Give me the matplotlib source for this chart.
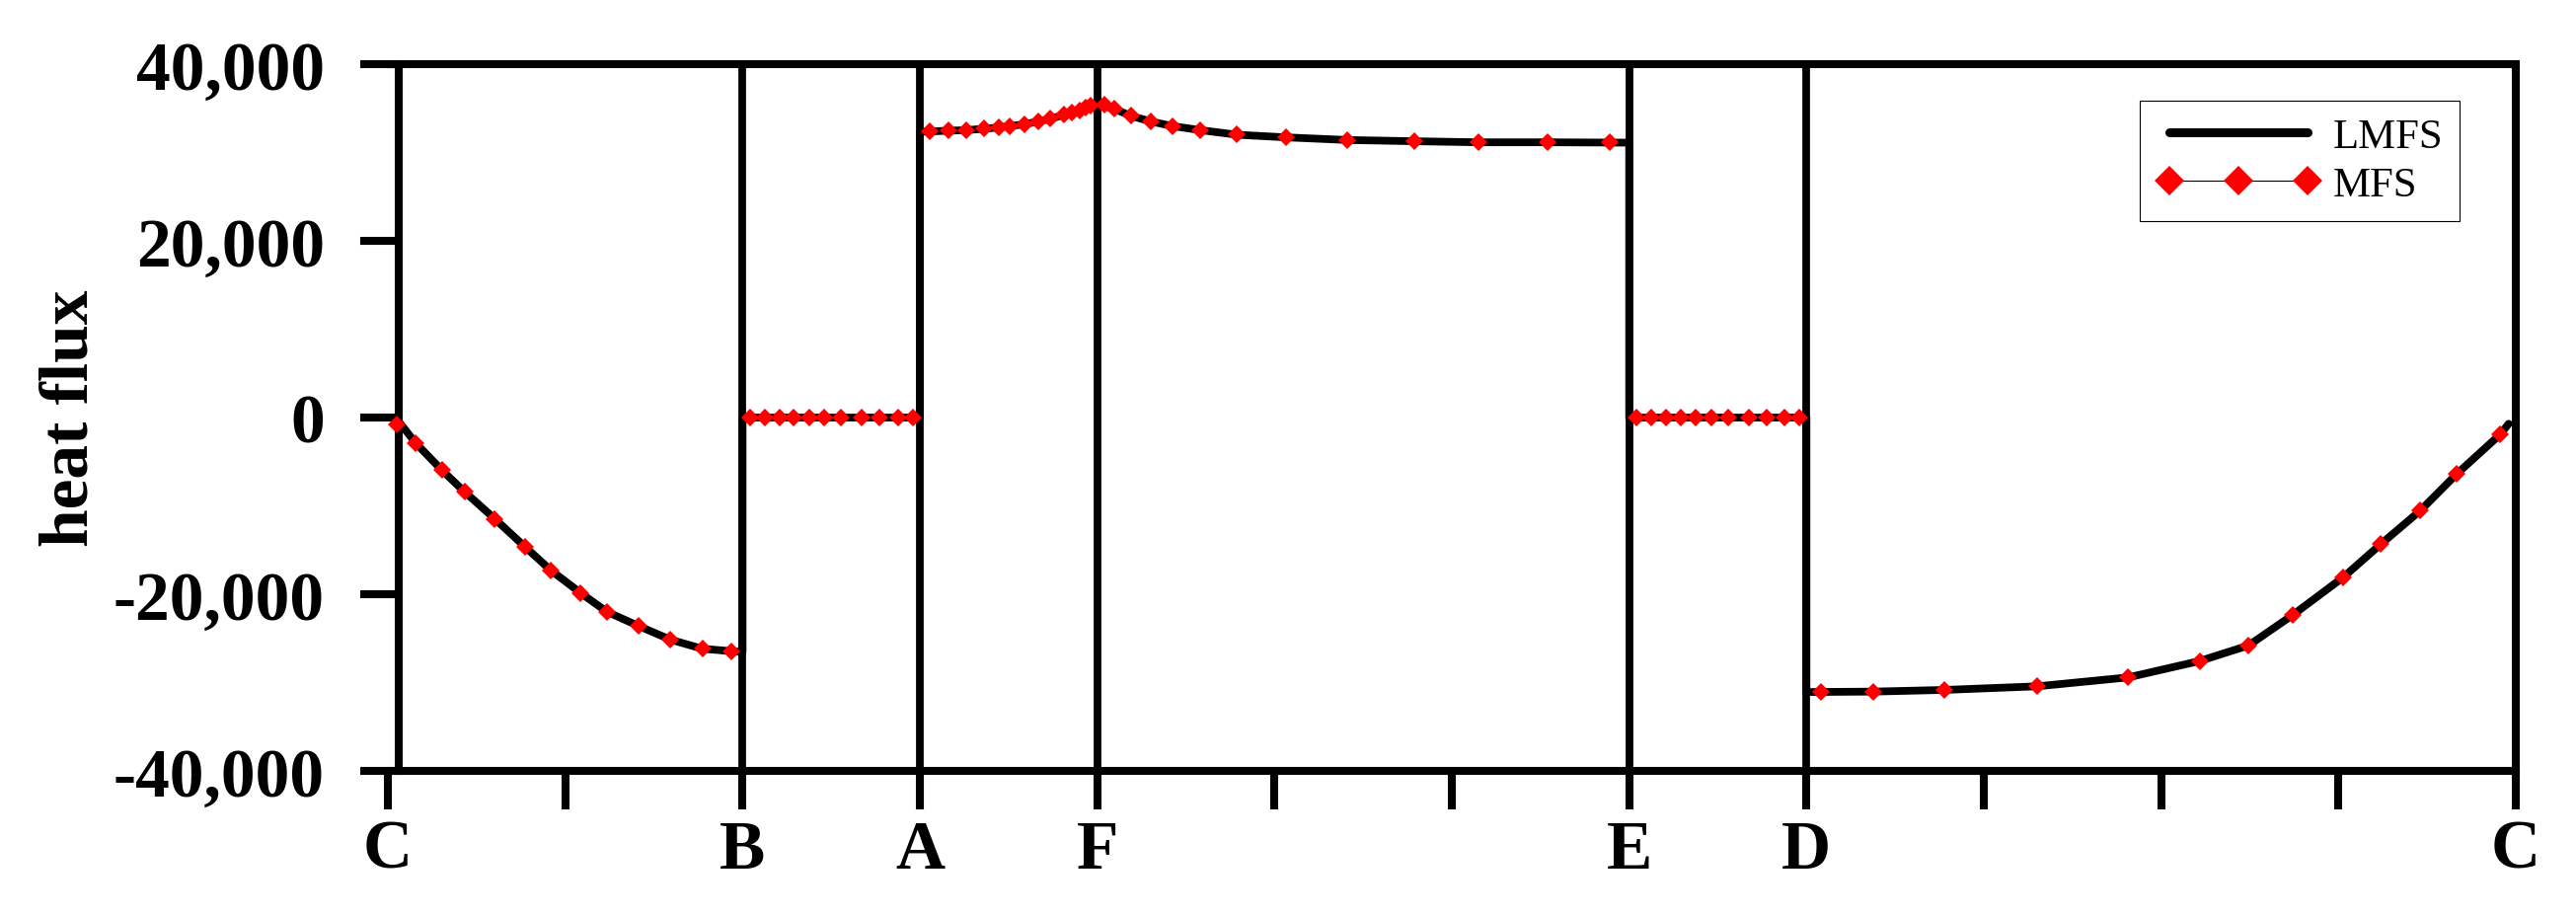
import matplotlib
matplotlib.use("Agg")
import matplotlib.pyplot as plt
from matplotlib.lines import Line2D
from matplotlib.ticker import FuncFormatter

# —— 数据 —— #
# x 轴沿边界 C-B-A-F-E-D-C，每个刻度一个单位
tick_pos = list(range(13))
tick_names = ["C", "", "B", "A", "F", "", "", "E", "D", "", "", "", "C"]
corner_pos = [2, 3, 4, 7, 8]          # 角点处的竖线
y_ticks = [-40000, -20000, 0, 20000, 40000]
left_axis_x = 0.061                    # 左轴线略偏离 x=0

# MFS 节点（红色菱形）
mfs_x = [0.048, 0.155, 0.304, 0.432, 0.602, 0.773, 0.917, 1.085, 1.234, 1.411, 1.592, 1.773, 1.934,
         2.040, 2.125, 2.210, 2.289, 2.376, 2.462, 2.557, 2.674, 2.774, 2.875, 2.960,
         3.053, 3.159, 3.262, 3.361, 3.446, 3.505, 3.590, 3.666, 3.735, 3.810, 3.859, 3.899, 3.937, 3.964,
         4.043, 4.094, 4.190, 4.304, 4.426, 4.582, 4.787, 5.065, 5.412, 5.790, 6.150, 6.542, 6.888,
         7.040, 7.125, 7.210, 7.289, 7.376, 7.462, 7.557, 7.674, 7.774, 7.875, 7.960,
         8.081, 8.377, 8.780, 9.303, 9.815, 10.217, 10.493, 10.741, 11.026, 11.239, 11.462, 11.668, 11.913]
mfs_q = [-750, -2850, -5950, -8400, -11450, -14630, -17260, -19830, -21970, -23570, -25130, -26170, -26440,
         0, 0, 0, 0, 0, 0, 0, 0, 0, 0, 0,
         32390, 32470, 32540, 32690, 32840, 32950, 33210, 33510, 33810, 34260, 34510, 34770, 35070, 35330,
         35380, 34960, 34150, 33510, 32990, 32540, 32020, 31720, 31420, 31280, 31160, 31160, 31130,
         0, 0, 0, 0, 0, 0, 0, 0, 0, 0, 0,
         -31050, -31020, -30830, -30420, -29410, -27560, -25800, -22370, -18100, -14330, -10530, -6370, -1900]

# LMFS 曲线（黑色粗线）
lmfs_x = [0.061, 0.155, 0.304, 0.432, 0.602, 0.773, 0.917, 1.085, 1.234, 1.411, 1.592, 1.773, 1.934, 2.0,
          2.0, 3.0,
          3.0, 3.159, 3.262, 3.361, 3.446, 3.590, 3.666, 3.735, 3.810, 3.899, 4.0,
          4.094, 4.190, 4.304, 4.426, 4.582, 4.787, 5.065, 5.412, 5.790, 6.150, 6.542, 6.888, 7.0,
          7.0, 8.0,
          8.0, 8.377, 8.780, 9.303, 9.815, 10.217, 10.493, 10.741, 11.026, 11.239, 11.462, 11.668, 11.913, 11.96]
lmfs_q = [-450, -2850, -5950, -8400, -11450, -14630, -17260, -19830, -21970, -23570, -25130, -26170, -26440, -26550,
          0, 0,
          32350, 32470, 32540, 32690, 32840, 33210, 33510, 33810, 34260, 34770, 35450,
          34960, 34150, 33510, 32990, 32540, 32020, 31720, 31420, 31280, 31160, 31160, 31130, 31120,
          0, 0,
          -31070, -31020, -30830, -30420, -29410, -27560, -25800, -22370, -18100, -14330, -10530, -6370, -1900, -700]

plt.rcParams['font.family'] = ['Liberation Serif', 'DejaVu Serif']
plt.rcParams['axes.unicode_minus'] = False

# —— 绘图 —— #
fig = plt.figure(figsize=(26.1, 9.29), dpi=100)
ax = fig.add_axes([0.1506, 0.1582, 0.8260, 0.7707])

# 1) 角点竖线
for xc in corner_pos:
    ax.axvline(xc, color='black', lw=5.6, zorder=1)

# 2) 两条结果
ax.plot(lmfs_x, lmfs_q, color='black', lw=5.6,
        solid_joinstyle='round', solid_capstyle='round', zorder=2)
ax.plot(mfs_x, mfs_q, ls='none', marker='D', ms=9.2,
        mfc='red', mec='red', mew=0, zorder=3)

# 3) 坐标轴
ax.set_xlim(0, 12)
ax.set_ylim(-40000, 40000)
for sp in ax.spines.values():
    sp.set_linewidth(5.8)
ax.spines['left'].set_position(('data', left_axis_x))

ax.set_xticks(tick_pos)
ax.set_xticklabels(tick_names)
ax.set_yticks(y_ticks)
ax.yaxis.set_major_formatter(FuncFormatter(lambda v, p: f"{v:,.0f}"))
ax.tick_params(direction='out', length=28, width=5.8, labelsize=50,
               top=False, right=False)
ax.tick_params(axis='x', pad=7)
ax.tick_params(axis='y', pad=26)
for lab in ax.get_xticklabels() + ax.get_yticklabels():
    lab.set_fontweight('bold')

ax.set_ylabel('heat flux', fontsize=50, fontweight='bold')
ax.yaxis.set_label_coords(-0.1345, 0.5)

# 4) 图例
handles = [Line2D([], [], color='black', lw=6.5, solid_capstyle='round'),
           Line2D([], [], color='black', lw=0.8, marker='D', ms=15.3,
                  mfc='red', mec='red', mew=0)]
leg = ax.legend(handles, ['LMFS', 'MFS'], loc='upper right',
                bbox_to_anchor=(0.9549, 0.8895), bbox_transform=fig.transFigure,
                borderaxespad=0, numpoints=3, handlelength=3.88,
                handletextpad=0.3, labelspacing=0.25, borderpad=0.4,
                fancybox=False, framealpha=1, edgecolor='black',
                prop={'size': 30.8})
leg.get_frame().set_linewidth(0.8)

fig.savefig('out.png', dpi=100)
